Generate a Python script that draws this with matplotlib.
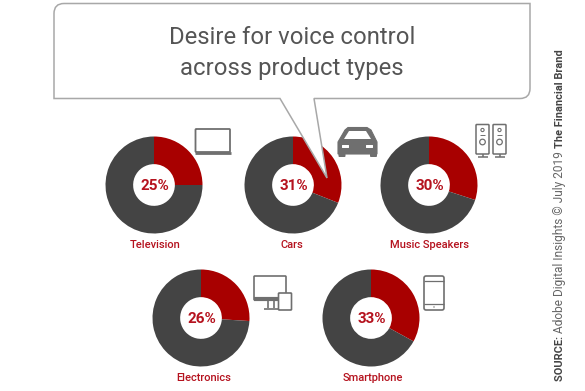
import matplotlib
matplotlib.use("Agg")
import matplotlib.pyplot as plt
import matplotlib.patches as pat
from matplotlib.path import Path

W, H = 585, 391
RED = "#a80000"
DARK = "#444444"
LABEL_RED = "#b5121e"
ICON = "#6f6f6f"

categories = ["Television", "Cars", "Music Speakers", "Electronics", "Smartphone"]
desire = [25, 31, 30, 26, 33]
centers = [(154, 185), (293, 185), (429, 185), (201, 318), (371, 318)]
label_x = [155.5, 291.5, 429, 204, 373]
title_lines = ["Desire for voice control", "across product types"]
radius = 48.5

plt.rcParams["font.family"] = ["Roboto", "DejaVu Sans"]

fig = plt.figure(figsize=(W / 100, H / 100), dpi=100, facecolor="white")


def donut(cx, cy, value):
    ax = fig.add_axes([(cx - radius) / W, 1 - (cy + radius) / H,
                       2 * radius / W, 2 * radius / H], zorder=1)
    ax.pie([value, 100 - value], colors=[RED, DARK], startangle=90,
           counterclock=False, radius=1,
           wedgeprops=dict(width=0.57, linewidth=0))
    ax.set_xlim(-1, 1)
    ax.set_ylim(-1, 1)
    ax.axis("off")


for (cx, cy), value in zip(centers, desire):
    donut(cx, cy, value)

# overlay in pixel coords, for the callout, icons and text
ov = fig.add_axes([0, 0, 1, 1], zorder=2)
ov.set_xlim(0, W)
ov.set_ylim(H, 0)
ov.axis("off")
ov.patch.set_alpha(0)

# callout bubble
L, R, T, B = 54, 530, 3.5, 98.5
c = 10
verts = [(L, T + c), (L, T), (L + c, T), (R, T), (R, B - c), (R, B), (R - c, B),
         (314, B), (327, 178), (280, B), (L, B), (L, T + c)]
codes = [Path.MOVETO, Path.CURVE3, Path.CURVE3, Path.LINETO, Path.LINETO,
         Path.CURVE3, Path.CURVE3, Path.LINETO, Path.LINETO, Path.LINETO,
         Path.LINETO, Path.CLOSEPOLY]
ov.add_patch(pat.PathPatch(Path(verts, codes), facecolor="white",
                           edgecolor="#a8a8a8", linewidth=1.1, zorder=3))

for line_txt, y in zip(title_lines, [37, 69]):
    ov.text(292, y, line_txt, fontsize=17.2, color="#555555", ha="center",
            va="center", zorder=4)

for (cx, cy), value, name, lx in zip(centers, desire, categories, label_x):
    ov.text(cx + 0.5, cy + 1, f"{value}%", fontsize=11, fontweight="bold",
            color=LABEL_RED, ha="center", va="center", zorder=4)
    ov.text(lx, cy + 60, name, fontsize=8, fontweight="medium",
            color=LABEL_RED, ha="center", va="center", zorder=4)


def box(x, y, w, h, fc="none", ec=ICON, lw=1.2, rnd=0.8):
    ov.add_patch(pat.FancyBboxPatch((x, y), w, h,
                                    boxstyle=f"round,pad=0,rounding_size={rnd}",
                                    fc=fc, ec=ec, lw=lw, zorder=5))


def line(xs, ys, lw=1.2):
    ov.plot(xs, ys, color=ICON, lw=lw, zorder=5, solid_capstyle="butt")


# television
box(195.5, 129, 34.5, 23, lw=1.3)
line([195, 231], [152.5, 152.5], lw=2)

# car
ov.add_patch(pat.Polygon([(338, 142), (345, 130), (348, 127.5), (367, 127.5), (371, 130),
                          (377, 142), (377, 154), (338, 154)],
                         closed=True, fc=ICON, ec=ICON, lw=0.8, zorder=5))
ov.add_patch(pat.Polygon([(344, 139), (349, 131), (366, 131), (371, 139)],
                         closed=True, fc="white", ec="none", zorder=6))
box(338.5, 152, 7, 5, fc=ICON, lw=0, rnd=1)
box(370, 152, 7, 5, fc=ICON, lw=0, rnd=1)
box(342, 145, 7, 3, fc="white", lw=0, rnd=0.5)
box(366, 145, 7, 3, fc="white", lw=0, rnd=0.5)

# speakers
for x0 in (476, 493):
    box(x0, 124.5, 13, 29.5, lw=1.1)
    ov.add_patch(pat.Circle((x0 + 6.5, 130), 1.6, fc="none", ec=ICON, lw=0.8, zorder=5))
    ov.add_patch(pat.Circle((x0 + 6.5, 142), 2.8, fc="none", ec=ICON, lw=0.9, zorder=5))
    line([x0 + 4, x0 + 9], [135, 135], lw=0.7)
    line([x0 + 6.5, x0 + 6.5], [154, 157], lw=1.1)
    line([x0 + 1.5, x0 + 11.5], [157, 157], lw=1.1)

# monitor and tablet
box(254, 276, 32, 24, lw=1.2)
line([254, 286], [299, 299], lw=3)
line([268, 268], [301, 308])
line([274, 274], [301, 308])
line([264, 278], [309, 309])
box(278.5, 293, 13, 17, fc="white", lw=1.2)

# phone
box(424, 276, 20, 34, lw=1.2, rnd=2)
line([424, 444], [281, 281], lw=0.9)
line([424, 444], [304, 304], lw=0.9)
ov.add_patch(pat.Circle((434, 307), 0.7, fc=ICON, ec="none", zorder=5))

# vertical source credit, built from the bottom up
fig.canvas.draw()
renderer = fig.canvas.get_renderer()
y = 381
src_parts = [("SOURCE: ", "bold", "#444444", 7.9),
             ("Adobe Digital Insights \u00a9 July 2019 ", "normal", "#666666", 8.6),
             ("The Financial Brand", "bold", "#444444", 7.9)]
for txt, weight, col, size in src_parts:
    t = ov.text(560, y, txt.replace(" ", "\u00a0"), rotation=90, fontsize=size,
                fontweight=weight, color=col, ha="center", va="bottom", zorder=5)
    y -= t.get_window_extent(renderer).height

fig.savefig("out.png", dpi=100, facecolor="white")
